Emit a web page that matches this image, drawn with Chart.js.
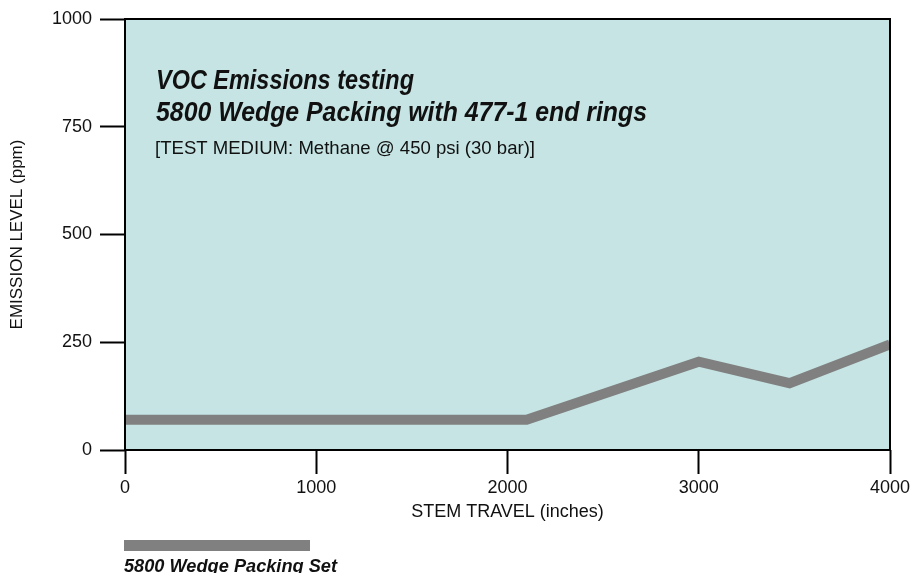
<!DOCTYPE html>
<html>
<head>
<meta charset="utf-8">
<script src="https://cdn.jsdelivr.net/npm/chart.js@4/dist/chart.umd.min.js"></script>
<style>
  html, body { margin: 0; padding: 0; background: #ffffff; }
  #wrap { width: 924px; height: 573px; position: relative; }
</style>
</head>
<body>
<div id="wrap"><canvas id="c" width="924" height="573"></canvas></div>
<script>
// ---- data ----
const stemTravel = [0, 2100, 3000, 3475, 4000];          // inches
const emissionLevel = [70, 70, 205, 155, 245];           // ppm
const seriesLabel = "5800 Wedge Packing Set";
const xTicks = [0, 1000, 2000, 3000, 4000];
const yTicks = [0, 250, 500, 750, 1000];
const titleLines = ["VOC Emissions testing", "5800 Wedge Packing with 477-1 end rings"];
const subtitle = "[TEST MEDIUM: Methane @ 450 psi (30 bar)]";
const xTitle = "STEM TRAVEL (inches)";
const yTitle = "EMISSION LEVEL (ppm)";

const LINE_COLOR = "#808080";
const PLOT_BG = "#c6e4e4";
const BASE_FONT = "'Liberation Sans', Arial, Helvetica, sans-serif";

const plotDecor = {
  id: 'plotDecor',
  beforeDraw(chart) {
    const a = chart.chartArea, ctx = chart.ctx;
    ctx.save();
    ctx.fillStyle = PLOT_BG;
    ctx.fillRect(a.left, a.top, a.right - a.left, a.bottom - a.top);
    ctx.restore();
  },
  afterDraw(chart) {
    const a = chart.chartArea, ctx = chart.ctx;
    ctx.save();
    ctx.strokeStyle = '#000';
    ctx.lineWidth = 2;
    ctx.strokeRect(a.left, a.top, a.right - a.left, a.bottom - a.top);

    const fitText = (txt, x, y, font, targetW) => {
      ctx.font = font;
      const w = ctx.measureText(txt).width;
      const sx = targetW ? targetW / w : 1;
      ctx.save();
      ctx.translate(x, y);
      ctx.scale(sx, 1);
      ctx.fillText(txt, 0, 0);
      ctx.restore();
    };
    ctx.fillStyle = '#111';
    ctx.textBaseline = 'alphabetic';
    ctx.textAlign = 'left';
    const tx = a.left + 31;
    fitText(titleLines[0], tx, a.top + 70, "italic bold 27px " + BASE_FONT, 258);
    fitText(titleLines[1], tx, a.top + 102, "italic bold 27px " + BASE_FONT, 491);
    fitText(subtitle, tx - 1, a.top + 135, "19px " + BASE_FONT, 380);

    // legend
    const ds = chart.data.datasets[0];
    const lx = a.left - 1;
    ctx.fillStyle = ds.borderColor;
    ctx.fillRect(lx, 540, 186, 11);
    ctx.fillStyle = '#111';
    fitText(ds.label, lx, 572, "italic bold 18px " + BASE_FONT, 213);
    ctx.restore();
  }
};

new Chart(document.getElementById('c'), {
  type: 'line',
  data: {
    datasets: [{
      label: seriesLabel,
      data: stemTravel.map((x, i) => ({ x: x, y: emissionLevel[i] })),
      borderColor: LINE_COLOR,
      backgroundColor: LINE_COLOR,
      borderWidth: 10,
      pointRadius: 0,
      tension: 0,
      borderJoinStyle: 'miter',
      borderCapStyle: 'butt',
      fill: false
    }]
  },
  options: {
    responsive: false,
    animation: false,
    devicePixelRatio: 1,
    layout: { padding: { left: 0, right: 34, top: 19, bottom: 48 } },
    plugins: {
      legend: { display: false },
      tooltip: { enabled: false },
      title: { display: false }
    },
    scales: {
      x: {
        type: 'linear',
        min: 0, max: 4000,
        afterBuildTicks(scale) { scale.ticks = xTicks.map(v => ({ value: v })); },
        afterFit(scale) { scale.height = 75; },
        border: { display: false },
        grid: { drawOnChartArea: false, drawTicks: true, tickLength: 24, tickColor: '#000', tickWidth: 2 },
        ticks: { color: '#111', font: { family: BASE_FONT, size: 18 }, padding: 3, maxRotation: 0,
                 callback: v => String(v) },
        title: { display: true, text: xTitle, color: '#111', font: { family: BASE_FONT, size: 18 }, padding: { top: 0, bottom: 2 } }
      },
      y: {
        type: 'linear',
        min: 0, max: 1000,
        afterBuildTicks(scale) { scale.ticks = yTicks.map(v => ({ value: v })); },
        afterFit(scale) { scale.width = 125; },
        border: { display: false },
        grid: { drawOnChartArea: false, drawTicks: true, tickLength: 25, tickColor: '#000', tickWidth: 2 },
        ticks: { color: '#111', font: { family: BASE_FONT, size: 18 }, padding: 8,
                 callback: v => String(v) },
        title: { display: true, text: yTitle, color: '#111', font: { family: BASE_FONT, size: 17 }, padding: { top: 7, bottom: 0 } }
      }
    }
  },
  plugins: [plotDecor]
});
</script>
</body>
</html>
